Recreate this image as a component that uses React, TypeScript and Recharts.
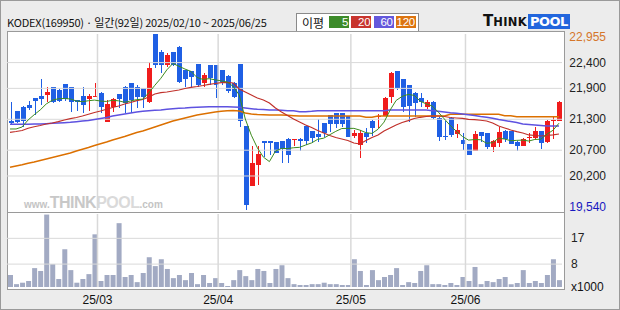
import React from "react";
import { Bar, ComposedChart, Line, ReferenceLine, XAxis, YAxis } from "recharts";

const dates = [
  "25/02/10", "25/02/11", "25/02/12", "25/02/13", "25/02/14", "25/02/17", "25/02/18", "25/02/19", "25/02/20", "25/02/21",
  "25/02/24", "25/02/25", "25/02/26", "25/02/27", "25/02/28",
  "25/03/04", "25/03/05", "25/03/06", "25/03/07", "25/03/10", "25/03/11", "25/03/12", "25/03/13", "25/03/14", "25/03/17",
  "25/03/18", "25/03/19", "25/03/20", "25/03/21", "25/03/24", "25/03/25", "25/03/26", "25/03/27", "25/03/28", "25/03/31",
  "25/04/01", "25/04/02", "25/04/03", "25/04/04", "25/04/07", "25/04/08", "25/04/09", "25/04/10", "25/04/11", "25/04/14",
  "25/04/15", "25/04/16", "25/04/17", "25/04/18", "25/04/21", "25/04/22", "25/04/23", "25/04/24", "25/04/25", "25/04/28",
  "25/04/29", "25/04/30",
  "25/05/02", "25/05/07", "25/05/08", "25/05/09", "25/05/12", "25/05/13", "25/05/14", "25/05/15", "25/05/16", "25/05/19",
  "25/05/20", "25/05/21", "25/05/22", "25/05/23", "25/05/26", "25/05/27", "25/05/28", "25/05/29", "25/05/30",
  "25/06/02", "25/06/04", "25/06/05", "25/06/09", "25/06/10", "25/06/11", "25/06/12", "25/06/13", "25/06/16", "25/06/17",
  "25/06/18", "25/06/19", "25/06/20", "25/06/23", "25/06/24", "25/06/25",
];

const open = [
  21267, 21461, 21539, 21578, 21713, 21758, 21777, 21921, 21869, 21979, 21921, 21675, 21752, 21694, 21750, 21816, 21254, 21533,
  21785, 21933, 21999, 21921, 21902, 21642, 22955, 22600, 22354, 22600, 22709, 22257, 22237, 22373, 22010, 22354, 22354, 22257,
  22140, 22010, 22373, 21170, 20012, 20414, 20879, 20879, 20860, 20879, 20924, 20910, 20924, 21170, 21073, 21015, 21223, 21384,
  21417, 21417, 21364, 20976, 20802, 21029, 21273, 21355, 21364, 21739, 22237, 22082, 21966, 21805, 21719, 21533, 21642, 21331,
  20976, 21320, 21015, 20899, 20821, 20691, 21048, 21029, 20757, 20846, 21073, 21073, 20866, 20788, 20945, 20943, 21073, 20866,
  21280, 21267,
];
const high = [
  21640, 21470, 21560, 21661, 21720, 22076, 21921, 21930, 21888, 21985, 21930, 21680, 21933, 21785, 22010, 21820, 21675, 21707,
  21790, 21940, 22005, 21965, 21910, 22406, 22955, 22645, 22592, 22610, 22720, 22265, 22245, 22380, 22193, 22360, 22360, 22265,
  22150, 22015, 22380, 21175, 20782, 20782, 20885, 20885, 20865, 20885, 20930, 20915, 20930, 21175, 21080, 21300, 21230, 21390,
  21425, 21425, 21370, 21093, 21093, 21125, 21280, 21403, 21725, 22224, 22245, 22090, 21975, 21830, 21805, 21675, 21660, 21340,
  21273, 21340, 21209, 21029, 20830, 21073, 21055, 21035, 20899, 21145, 21093, 21080, 20870, 20931, 21029, 21145, 21080, 21280,
  21364, 21650,
];
const low = [
  21209, 21234, 21157, 21481, 21384, 21578, 21642, 21622, 21642, 21655, 21448, 21461, 21417, 21461, 21745, 21417, 21250, 21448,
  21514, 21428, 21428, 21514, 21514, 21622, 22290, 22204, 22320, 22334, 22010, 21921, 21933, 21933, 21921, 21966, 21708, 21966,
  21805, 21715, 21157, 19540, 20000, 20026, 20574, 20600, 20640, 20447, 20447, 20782, 20691, 20802, 20834, 20866, 20963, 21060,
  21131, 21157, 20955, 20931, 20555, 20846, 20976, 21137, 21355, 21622, 21869, 21448, 21254, 21351, 21533, 21500, 21306, 20885,
  20899, 20963, 20931, 20697, 20600, 20685, 20866, 20724, 20672, 20757, 20866, 20815, 20691, 20782, 20846, 20912, 20718, 20846,
  20912, 21260,
];
const close = [
  21228, 21254, 21273, 21525, 21661, 21694, 21830, 21642, 21661, 21694, 21642, 21636, 21578, 21752, 21758, 21545, 21597, 21694,
  21694, 21622, 21675, 21727, 21739, 22301, 22354, 22354, 22553, 22354, 22030, 22082, 22127, 21966, 22160, 22107, 21966, 22030,
  21849, 21739, 21273, 19638, 20458, 20627, 20834, 20840, 20652, 20724, 20608, 20915, 20879, 20879, 20931, 20951, 21029, 21209,
  21209, 21209, 20963, 21029, 21040, 20963, 21137, 21364, 21719, 22204, 21902, 21533, 21558, 21622, 21642, 21642, 21320, 20963,
  20963, 20996, 21093, 20821, 20608, 21015, 20976, 20757, 20879, 21048, 20918, 20821, 20788, 20912, 20951, 21073, 20846, 21273,
  21287, 21642,
];

const ma5 = [
  21112, 21112, 21151, 21287, 21388, 21481, 21597, 21670, 21698, 21704, 21694, 21655, 21642, 21660, 21673, 21654, 21646, 21669,
  21658, 21630, 21656, 21682, 21691, 21813, 21959, 22095, 22260, 22383, 22329, 22275, 22229, 22112, 22073, 22088, 22065, 22046,
  22022, 21938, 21771, 21306, 20991, 20747, 20566, 20479, 20682, 20735, 20732, 20748, 20756, 20801, 20842, 20911, 20934, 21000,
  21066, 21121, 21124, 21124, 21090, 21041, 21026, 21107, 21245, 21477, 21665, 21744, 21783, 21764, 21651, 21599, 21557, 21438,
  21306, 21177, 21067, 20967, 20896, 20907, 20903, 20835, 20847, 20935, 20916, 20885, 20891, 20897, 20878, 20909, 20914, 21011,
  21086, 21224,
];
const ma20 = [
  21048, 21063, 21083, 21126, 21155, 21180, 21209, 21228, 21254, 21287, 21312, 21335, 21364, 21397, 21432, 21461, 21494, 21529,
  21558, 21597, 21626, 21661, 21684, 21733, 21791, 21816, 21830, 21849, 21869, 21898, 21921, 21936, 21956, 21979, 21995, 22010,
  22018, 22004, 21888, 21830, 21772, 21713, 21675, 21616, 21519, 21442, 21374, 21306, 21248, 21190, 21141, 21083, 21034, 20986,
  20947, 20918, 20889, 20840, 20821, 20889, 20947, 20996, 21073, 21131, 21190, 21238, 21273, 21316, 21339, 21354, 21364, 21364,
  21354, 21335, 21325, 21316, 21300, 21292, 21281, 21267, 21228, 21170, 21131, 21093, 21060, 21034, 20996, 20986, 20976, 20986,
  20996, 21015,
];
const ma60 = [
  21203, 21203, 21203, 21203, 21209, 21209, 21215, 21223, 21228, 21234, 21242, 21254, 21267, 21277, 21296, 21316, 21335, 21364,
  21384, 21403, 21422, 21442, 21455, 21467, 21475, 21481, 21494, 21506, 21514, 21519, 21529, 21533, 21539, 21543, 21545, 21545,
  21543, 21539, 21533, 21519, 21506, 21494, 21488, 21481, 21481, 21475, 21467, 21467, 21448, 21448, 21455, 21467, 21467, 21467,
  21467, 21467, 21467, 21467, 21467, 21467, 21467, 21467, 21467, 21481, 21481, 21481, 21481, 21481, 21481, 21481, 21467, 21455,
  21442, 21428, 21417, 21403, 21389, 21374, 21355, 21339, 21320, 21296, 21277, 21257, 21238, 21209, 21199, 21190, 21180, 21170,
  21170, 21170,
];
const ma120 = [
  20369, 20394, 20419, 20447, 20472, 20501, 20530, 20559, 20588, 20617, 20646, 20685, 20718, 20753, 20792, 20825, 20860, 20899,
  20932, 20966, 21005, 21044, 21073, 21112, 21151, 21190, 21228, 21267, 21296, 21325, 21355, 21384, 21403, 21422, 21442, 21455,
  21467, 21471, 21461, 21422, 21403, 21393, 21389, 21384, 21384, 21384, 21378, 21370, 21364, 21364, 21364, 21364, 21364, 21364,
  21364, 21364, 21364, 21364, 21364, 21339, 21339, 21364, 21364, 21364, 21364, 21364, 21364, 21364, 21364, 21364, 21364, 21364,
  21364, 21397, 21397, 21397, 21397, 21397, 21397, 21397, 21397, 21397, 21370, 21370, 21350, 21350, 21350, 21350, 21350, 21350,
  21350, 21350,
];

// volume, x1000
const volume = [
  4.2, 1.0, 1.5, 2.1, 6.6, 5.6, 25.3, 8.0, 2.8, 13.2, 5.9, 1.5, 2.8, 4.5, 18.4, 2.1, 4.2, 4.2, 22.3, 3.5, 4.2, 1.7, 4.9, 10.4,
  7.3, 9.7, 6.3, 3.1, 4.2, 2.4, 4.9, 1.0, 4.2, 1.4, 3.1, 1.4, 0.35, 2.4, 5.9, 3.8, 2.4, 6.3, 5.6, 1.4, 6.3, 7.6, 3.1, 1.0,
  0.7, 0.7, 1.0, 1.0, 1.5, 1.0, 1.0, 0.7, 0.7, 9.7, 5.6, 0.7, 5.9, 2.4, 3.5, 4.2, 6.6, 0.7, 1.7, 1.4, 5.6, 7.6, 1.0, 1.0,
  0.7, 1.4, 0.7, 3.5, 2.1, 7.0, 1.0, 2.1, 1.7, 2.8, 3.5, 1.0, 1.4, 5.9, 1.4, 2.1, 1.4, 4.2, 9.7, 2.4,
];

const priceTicks = [19540, 20200, 20700, 21300, 21900, 22400, 22955];
const volumeTicks = [8, 17];
const monthLabels = ["25/03", "25/04", "25/05", "25/06"];

const maLegend = [
  { label: "5", color: "#3d8b2a" },
  { label: "20", color: "#c8352e" },
  { label: "60", color: "#6458dc" },
  { label: "120", color: "#dc7410" },
];

const UP = "#f01c1c";
const DOWN = "#1f5fe4";
const GRID = "#d9d9d9";
const FONT = "'Liberation Sans', Arial, sans-serif";

const rows = dates.map((d, i) => ({
  x: i + 0.5,
  date: d,
  o: open[i],
  h: high[i],
  l: low[i],
  c: close[i],
  range: [low[i], high[i]],
  ma5: ma5[i],
  ma20: ma20[i],
  ma60: ma60[i],
  ma120: ma120[i],
  vol: volume[i],
}));

const monthStarts = monthLabels.map((m) => dates.findIndex((d) => d.startsWith(m)));
const innerPriceTicks = priceTicks.slice(1, -1);

const Candle = (props: any) => {
  const { x, y, width, height, payload } = props;
  const { o, h, l, c } = payload;
  const color = c > o ? UP : DOWN;
  const k = h > l ? height / (h - l) : 0;
  const cx = Math.round(x + width / 2) + 0.5;
  const top = y + (h - Math.max(o, c)) * k;
  const bottom = y + (h - Math.min(o, c)) * k;
  return (
    <g shapeRendering="crispEdges">
      <line x1={cx} x2={cx} y1={y} y2={y + height} stroke={color} />
      <rect x={cx - 2.5} y={top} width={5} height={Math.max(1, bottom - top)} fill={color} />
    </g>
  );
};

const PriceTick = (props: any) => {
  const { x, y, payload } = props;
  const v = payload.value;
  let fill = "#222";
  let dy = 4;
  if (v === priceTicks[priceTicks.length - 1]) {
    fill = "#d5762a";
    dy = 7;
  } else if (v === priceTicks[0]) {
    fill = "#1818c0";
    dy = 1;
  }
  return (
    <text x={x + 36} y={y + dy} textAnchor="end" fontSize={12} fontFamily={FONT} fill={fill}>
      {v.toLocaleString("en-US")}
    </text>
  );
};

const VolTick = (props: any) => {
  const { x, y, payload } = props;
  return (
    <text x={x + 1} y={y + 4} textAnchor="start" fontSize={12} fontFamily={FONT} fill="#222">
      {payload.value}
    </text>
  );
};

export default function App() {
  return (
    <div
      style={{
        position: "absolute",
        left: 0,
        top: 0,
        width: 620,
        height: 310,
        boxSizing: "border-box",
        border: "1px solid #9a9a9a",
        background: "#ececec",
        fontFamily: FONT,
        overflow: "hidden",
      }}
    >
      {/* header */}
      <div
        style={{
          position: "absolute",
          left: 6,
          top: 13,
          fontSize: 11,
          lineHeight: "16px",
          fontFamily: "'Noto Sans CJK KR', sans-serif",
          color: "#111",
          whiteSpace: "nowrap",
          letterSpacing: -0.2,
        }}
      >
        {`KODEX(169950) · 일간(${dates.length}일) 20${dates[0]} ~ 20${dates[dates.length - 1]}`}
      </div>

      {/* MA legend */}
      <div
        style={{
          position: "absolute",
          left: 295,
          top: 12,
          width: 121,
          height: 17,
          background: "#fff",
          border: "1px solid #8a8a8a",
        }}
      >
        <span
          style={{
            position: "absolute",
            left: 5,
            top: 0,
            fontFamily: "'Noto Sans CJK KR', sans-serif",
            fontSize: 12,
            lineHeight: "17px",
            color: "#111",
          }}
        >
          이평
        </span>
        {maLegend.map((m, i) => (
          <span
            key={m.label}
            style={{
              position: "absolute",
              left: 32 + i * 22.3,
              top: 2,
              width: 20,
              height: 12,
              background: m.color,
              color: "#fff",
              fontSize: 11.5,
              lineHeight: "13px",
              textAlign: "right",
              paddingRight: 1,
              boxSizing: "border-box",
              letterSpacing: -0.3,
            }}
          >
            {m.label}
          </span>
        ))}
      </div>

      {/* logo */}
      <div
        style={{
          position: "absolute",
          left: 482,
          top: 13,
          height: 15,
          display: "flex",
          alignItems: "flex-end",
          fontFamily: "'DejaVu Sans', sans-serif",
          fontWeight: 900,
        }}
      >
        <span style={{ fontSize: 15, lineHeight: "15px", color: "#111" }}>T</span>
        <span style={{ fontSize: 11.5, lineHeight: "13px", color: "#111", letterSpacing: 0.3 }}>HINK</span>
        <span
          style={{
            marginLeft: 1,
            background: "#2266dd",
            color: "#fff",
            fontSize: 13,
            lineHeight: "15px",
            padding: "0 2px",
            letterSpacing: -0.5,
          }}
        >
          POOL
        </span>
      </div>

      {/* panels */}
      <div
        style={{
          position: "absolute",
          left: 6,
          top: 30,
          width: 556,
          height: 257,
          background: "#fff",
          border: "1px solid #9a9a9a",
        }}
      />
      <div style={{ position: "absolute", left: 7, top: 211, width: 556, height: 1, background: "#9a9a9a" }} />

      {/* watermark */}
      <div
        style={{
          position: "absolute",
          left: 23,
          top: 193,
          display: "flex",
          alignItems: "baseline",
          fontFamily: FONT,
          fontWeight: 700,
          whiteSpace: "nowrap",
        }}
      >
        <span style={{ fontSize: 10, color: "#c4c4c4" }}>www.</span>
        <span style={{ fontSize: 16, color: "#c8c8c8", letterSpacing: -0.5 }}>THINK</span>
        <span style={{ fontSize: 16, color: "#dadada", letterSpacing: -0.5 }}>POOL</span>
        <span style={{ fontSize: 10, color: "#c4c4c4" }}>.com</span>
      </div>

      {/* price chart */}
      <div style={{ position: "absolute", left: -1, top: -1 }}>
        <ComposedChart width={620} height={218} data={rows} margin={{ top: 34, right: 0, left: 7, bottom: 8 }}>
          <XAxis type="number" dataKey="x" domain={[0, dates.length]} hide />
          <YAxis
            orientation="right"
            width={58}
            domain={[priceTicks[0], priceTicks[priceTicks.length - 1]]}
            ticks={priceTicks}
            interval={0}
            allowDataOverflow
            axisLine={false}
            tickLine={false}
            tick={(p: any) => <PriceTick {...p} />}
          />
          {innerPriceTicks.map((v) => (
            <ReferenceLine key={v} y={v} stroke={GRID} strokeWidth={1} />
          ))}
          {monthStarts.map((m) => (
            <ReferenceLine key={m} x={m} stroke={GRID} strokeWidth={1.5} />
          ))}
          <Line dataKey="ma120" stroke="#dc7000" strokeWidth={1.5} dot={false} isAnimationActive={false} />
          <Line dataKey="ma60" stroke="#5e52e0" strokeWidth={1.5} dot={false} isAnimationActive={false} />
          <Line dataKey="ma20" stroke="#c0302a" strokeWidth={1.2} dot={false} isAnimationActive={false} />
          <Line dataKey="ma5" stroke="#3d8b1e" strokeWidth={1} dot={false} isAnimationActive={false} />
          <Bar dataKey="range" barSize={5} shape={(p: any) => <Candle {...p} />} isAnimationActive={false} />
        </ComposedChart>
      </div>

      {/* volume chart */}
      <div style={{ position: "absolute", left: -1, top: 211 }}>
        <ComposedChart width={620} height={98} data={rows} margin={{ top: 2, right: 0, left: 7, bottom: 0 }}>
          <XAxis
            type="number"
            dataKey="x"
            domain={[0, dates.length]}
            ticks={monthStarts}
            interval={0}
            height={23}
            axisLine={false}
            tickLine={false}
            tick={{ fontSize: 12, fill: "#111", fontFamily: FONT }}
            tickFormatter={(v: number) => monthLabels[monthStarts.indexOf(v)]}
          />
          <YAxis
            orientation="right"
            width={58}
            domain={[0, 25.5]}
            ticks={volumeTicks}
            interval={0}
            allowDataOverflow
            axisLine={false}
            tickLine={false}
            tick={(p: any) => <VolTick {...p} />}
          />
          {volumeTicks.map((v) => (
            <ReferenceLine key={v} y={v} stroke={GRID} strokeWidth={1} />
          ))}
          {monthStarts.map((m) => (
            <ReferenceLine key={m} x={m} stroke={GRID} strokeWidth={1.5} />
          ))}
          <Bar dataKey="vol" barSize={5} fill="#a2aac3" isAnimationActive={false} />
        </ComposedChart>
      </div>

      <div style={{ position: "absolute", left: 570, top: 279, fontSize: 12, lineHeight: "14px", color: "#111" }}>
        x1000
      </div>
    </div>
  );
}
